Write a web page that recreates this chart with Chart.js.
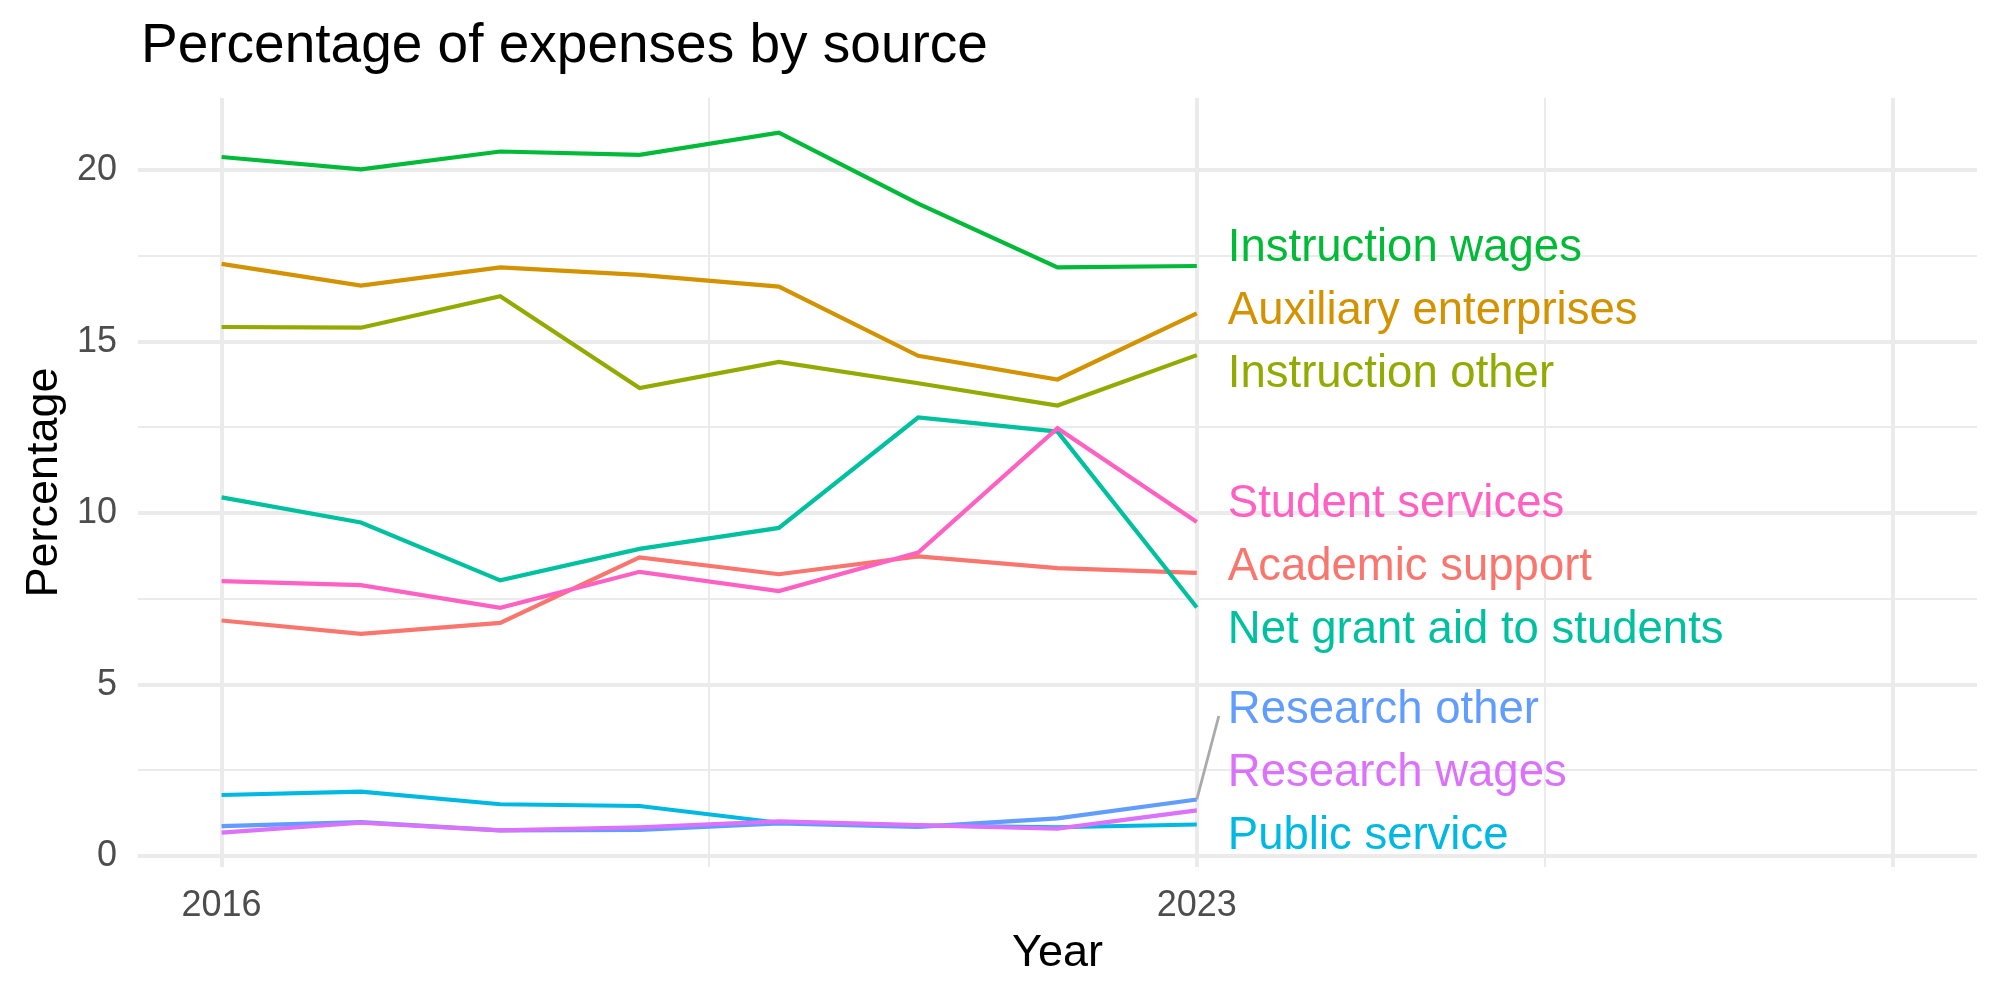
<!DOCTYPE html>
<html>
<head>
<meta charset="utf-8">
<title>Percentage of expenses by source</title>
<script src="https://cdn.jsdelivr.net/npm/chart.js@4.4.1/dist/chart.umd.min.js"></script>
<style>
  html, body { margin: 0; padding: 0; background: #fff; }
  #wrap { width: 2000px; height: 1000px; }
</style>
</head>
<body>
<div id="wrap"><canvas id="chart" width="2000" height="1000"></canvas></div>
<script>
// data
const years = [2016, 2017, 2018, 2019, 2020, 2021, 2022, 2023];

const academicSupport = [6.87, 6.48, 6.80, 8.71, 8.22, 8.74, 8.40, 8.26];
const auxiliaryEnterprises = [17.27, 16.64, 17.17, 16.95, 16.61, 14.59, 13.90, 15.83];
const instructionOther = [15.43, 15.41, 16.33, 13.65, 14.41, 13.79, 13.14, 14.61];
const instructionWages = [20.39, 20.03, 20.55, 20.45, 21.10, 19.03, 17.17, 17.21];
const netGrantAid = [10.46, 9.73, 8.04, 8.96, 9.57, 12.79, 12.38, 7.25];
const publicService = [1.78, 1.88, 1.51, 1.46, 0.97, 0.89, 0.84, 0.92];
const researchOther = [0.87, 0.99, 0.75, 0.76, 0.95, 0.85, 1.10, 1.65];
const researchWages = [0.68, 0.97, 0.75, 0.84, 1.01, 0.90, 0.80, 1.33];
const studentServices = [8.02, 7.90, 7.24, 8.29, 7.73, 8.85, 12.48, 9.74];

const seriesNames = [
  'Academic support', 'Auxiliary enterprises', 'Instruction other', 'Instruction wages',
  'Net grant aid to students', 'Public service', 'Research other', 'Research wages', 'Student services'
];
const seriesValues = [
  academicSupport, auxiliaryEnterprises, instructionOther, instructionWages,
  netGrantAid, publicService, researchOther, researchWages, studentServices
];
const seriesColors = [
  '#F8766D', '#D39200', '#93AA00', '#00BA38', '#00C19F', '#00B9E3', '#619CFF', '#DB72FB', '#FF61C3'
];

const xTickValues = [2016, 2019.5, 2023, 2025.5, 2028];
const xTickLabels = ['2016', '', '2023', '', ''];
const yTickValues = [0, 2.5, 5, 7.5, 10, 12.5, 15, 17.5, 20];
const yTickLabels = ['0', '', '5', '', '10', '', '15', '', '20'];

const FONT = '"Liberation Sans", Arial, Helvetica, sans-serif';
Chart.defaults.font.family = FONT;

// ggplot draws the last factor level on top, chart.js draws the first dataset on top
const datasets = seriesNames.map((name, i) => ({
  label: name,
  data: years.map((yr, j) => ({ x: yr, y: seriesValues[i][j] })),
  borderColor: seriesColors[i],
  backgroundColor: seriesColors[i],
  borderWidth: 4.2,
  pointRadius: 0,
  tension: 0,
  fill: false
})).reverse();

function spread(items, gap, lo, hi) {
  // items sorted top -> bottom (pixel y ascending), each has .target
  let groups = items.map(it => ({ members: [it] }));
  const place = g => {
    const n = g.members.length;
    const mean = g.members.reduce((s, m) => s + m.target, 0) / n;
    let first = mean - (n - 1) * gap / 2;
    if (first + (n - 1) * gap > hi) first = hi - (n - 1) * gap;
    if (first < lo) first = lo;
    g.members.forEach((m, k) => { m.y = first + k * gap; });
  };
  let merged = true;
  while (merged) {
    merged = false;
    groups.forEach(place);
    for (let i = 0; i < groups.length - 1; i++) {
      const a = groups[i], b = groups[i + 1];
      if (a.members[a.members.length - 1].y + gap > b.members[0].y) {
        groups.splice(i, 2, { members: a.members.concat(b.members) });
        merged = true;
        break;
      }
    }
  }
  groups.forEach(place);
}

const decorations = {
  id: 'decorations',
  afterDatasetsDraw(chart) {
    const { ctx, chartArea, scales: { x, y } } = chart;
    const last = years.length - 1;
    const px = x.getPixelForValue(years[last]);
    const textX = px + 31;

    const items = seriesNames.map((name, i) => ({
      name, color: seriesColors[i],
      py: y.getPixelForValue(seriesValues[i][last])
    }));
    items.forEach(it => { it.target = it.py; });
    items.sort((a, b) => a.py - b.py);
    spread(items, 63, chartArea.top + 31, chartArea.bottom - 31);

    ctx.save();
    items.forEach(it => {
      if (Math.abs(it.y - it.py) > 50) {
        ctx.strokeStyle = '#aaaaaa';
        ctx.lineWidth = 2.8;
        ctx.beginPath();
        ctx.moveTo(px, it.py);
        ctx.lineTo(textX - 9, it.y + 6);
        ctx.stroke();
      }
    });
    ctx.font = '45.5px ' + FONT;
    ctx.textAlign = 'left';
    ctx.textBaseline = 'middle';
    items.forEach(it => {
      ctx.fillStyle = it.color;
      ctx.fillText(it.name, textX, it.y);
    });

    // plot title, left aligned with the panel like ggplot
    ctx.fillStyle = '#000000';
    ctx.font = '55px ' + FONT;
    ctx.textBaseline = 'alphabetic';
    ctx.fillText('Percentage of expenses by source', 141, 62);
    ctx.restore();
  }
};

new Chart(document.getElementById('chart'), {
  type: 'line',
  data: { datasets },
  options: {
    responsive: false,
    animation: false,
    devicePixelRatio: 1,
    layout: { padding: { top: 98, right: 23, bottom: 0, left: 0 } },
    plugins: {
      legend: { display: false },
      tooltip: { enabled: false },
      title: { display: false }
    },
    scales: {
      x: {
        type: 'linear',
        min: 2015.4,
        max: 2028.6,
        afterBuildTicks: s => { s.ticks = xTickValues.map(v => ({ value: v })); },
        afterFit: s => { s.height = 133; },
        ticks: {
          autoSkip: false,
          maxRotation: 0,
          padding: 17,
          color: '#4d4d4d',
          font: { size: 36 },
          callback: (v) => xTickLabels[xTickValues.indexOf(v)]
        },
        grid: {
          color: '#ebebeb',
          drawTicks: false,
          lineWidth: c => (c.tick && [2016, 2023, 2028].includes(c.tick.value)) ? 4 : 2
        },
        border: { display: false },
        title: {
          display: true,
          text: 'Year',
          color: '#000000',
          font: { size: 45 },
          padding: { top: 0, bottom: 19 }
        }
      },
      y: {
        type: 'linear',
        min: -0.32,
        max: 22.11,
        afterBuildTicks: s => { s.ticks = yTickValues.map(v => ({ value: v })); },
        afterFit: s => { s.width = 138; },
        ticks: {
          autoSkip: false,
          padding: 21,
          color: '#4d4d4d',
          font: { size: 36 },
          callback: (v) => yTickLabels[yTickValues.indexOf(v)]
        },
        grid: {
          color: '#ebebeb',
          drawTicks: false,
          lineWidth: c => (c.tick && c.tick.value % 5 === 0) ? 4 : 2
        },
        border: { display: false },
        title: {
          display: true,
          text: 'Percentage',
          color: '#000000',
          font: { size: 45 },
          padding: { top: 18, bottom: 0 }
        }
      }
    }
  },
  plugins: [decorations]
});
</script>
</body>
</html>
